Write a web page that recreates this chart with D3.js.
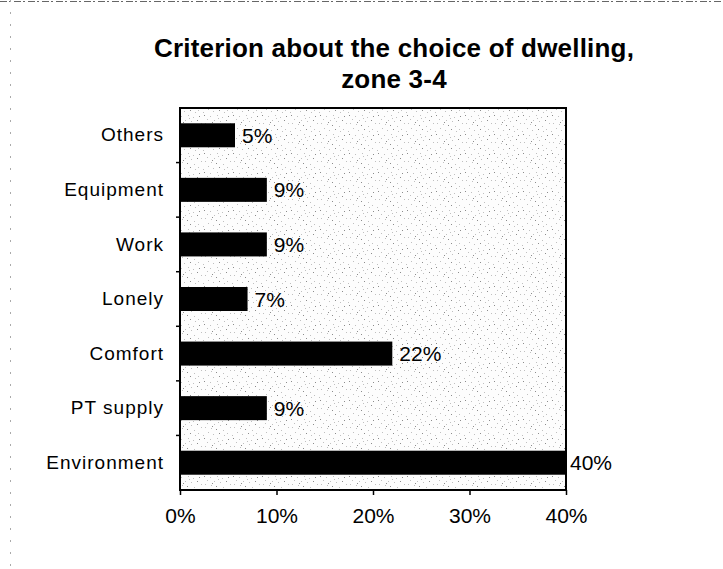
<!DOCTYPE html>
<html>
<head>
<meta charset="utf-8">
<script src="https://cdn.jsdelivr.net/npm/d3@7"></script>
<style>
  html, body { margin: 0; padding: 0; background: #fff; }
  svg { display: block; }
  text { font-family: "Liberation Sans", Arial, sans-serif; fill: #000; }
</style>
</head>
<body>
<script>
// ---- data ----
const categories = ["Others", "Equipment", "Work", "Lonely", "Comfort", "PT supply", "Environment"];
const values = [5.7, 9, 9, 7, 22, 9, 40];            // percent, bar lengths as read
const valueLabels = ["5%", "9%", "9%", "7%", "22%", "9%", "40%"];
const xTicks = [0, 10, 20, 30, 40];
const titleLines = ["Criterion about the choice of dwelling,", "zone 3-4"];

const W = 723, H = 569;
const plot = { left: 180, right: 566, top: 108, bottom: 490 };
const FONT = "'Liberation Sans', Arial, sans-serif";

const svg = d3.select("body").append("svg").attr("width", W).attr("height", H);

// stipple pattern for plot background (fixed dot layout)
const defs = svg.append("defs");
const pat = defs.append("pattern").attr("id", "stip").attr("patternUnits", "userSpaceOnUse")
  .attr("width", 29).attr("height", 19);
pat.append("rect").attr("width", 29).attr("height", 19).attr("fill", "#fdfdfd");
const dots = [[1,1],[7,2],[14,1],[19,3],[25,2],[4,5],[11,6],[17,7],[23,6],[27,9],
              [2,9],[8,10],[13,11],[20,12],[5,14],[10,16],[16,15],[24,15],[0,17],
              [15,4],[9,8],[21,17]];
dots.forEach((p, i) => {
  pat.append("rect").attr("x", p[0]).attr("y", p[1]).attr("width", 1).attr("height", 1)
    .attr("fill", i % 4 === 0 ? "#8c8c8c" : "#c0c0c0");
});

// outer frame (dashed, scan-like)
svg.append("line").attr("x1", 0).attr("x2", W).attr("y1", 1.5).attr("y2", 1.5)
  .attr("stroke", "#666").attr("stroke-width", 1).attr("stroke-dasharray", "7,2,2,3");
svg.append("line").attr("x1", 10.5).attr("x2", 10.5).attr("y1", 0).attr("y2", H)
  .attr("stroke", "#aaa").attr("stroke-width", 1).attr("stroke-dasharray", "2,10");

// title
const title = svg.append("text").attr("text-anchor", "middle")
  .style("font-weight", "bold").style("font-size", "26px").style("letter-spacing", "0.2px");
titleLines.forEach((t, i) => {
  title.append("tspan").attr("x", 394).attr("y", 57 + i * 31).text(t);
});

// scales
const x = d3.scaleLinear().domain([0, 40]).range([plot.left, plot.right]);
const y = d3.scaleBand().domain(categories).range([plot.top, plot.bottom])
  .paddingInner(0.56).paddingOuter(0.28);

// plot area
svg.append("rect").attr("x", plot.left).attr("y", plot.top)
  .attr("width", plot.right - plot.left).attr("height", plot.bottom - plot.top)
  .attr("fill", "url(#stip)").attr("stroke", "none");

// bars
svg.append("g").selectAll("rect").data(categories).join("rect")
  .attr("x", x(0))
  .attr("y", d => y(d))
  .attr("width", (d, i) => x(values[i]) - x(0))
  .attr("height", y.bandwidth())
  .attr("fill", "#000");

// border
svg.append("rect").attr("x", plot.left).attr("y", plot.top)
  .attr("width", plot.right - plot.left).attr("height", plot.bottom - plot.top)
  .attr("fill", "none").attr("stroke", "#000").attr("stroke-width", 2);

// x axis
const xAxis = svg.append("g").attr("transform", `translate(0,${plot.bottom})`)
  .call(d3.axisBottom(x).tickValues(xTicks).tickSize(5).tickPadding(13)
    .tickFormat(d => d + "%"));
xAxis.select(".domain").remove();
xAxis.selectAll(".tick line").attr("stroke", "#000").attr("stroke-width", 1.5);
xAxis.selectAll("text").style("font-size", "21px").attr("fill", "#000")
  .style("font-family", FONT);

// y axis labels
const yAxis = svg.append("g").attr("transform", `translate(${plot.left},0)`)
  .call(d3.axisLeft(y).tickSize(0).tickPadding(16));
yAxis.select(".domain").remove();
yAxis.selectAll("text").style("font-size", "19px").style("letter-spacing", "1px")
  .attr("fill", "#000").style("font-family", FONT);

// y tick marks at category boundaries
const bounds = categories.slice(1).map(c => y(c) - y.step() * y.paddingInner() / 2);
svg.append("g").selectAll("line").data(bounds).join("line")
  .attr("x1", plot.left - 4).attr("x2", plot.left)
  .attr("y1", d => d).attr("y2", d => d)
  .attr("stroke", "#000").attr("stroke-width", 1.5);

// value labels
svg.append("g").selectAll("text").data(categories).join("text")
  .attr("x", (d, i) => x(values[i]) + (values[i] >= 40 ? 4 : 7))
  .attr("y", d => y(d) + y.bandwidth() / 2)
  .attr("dy", "0.36em")
  .style("font-size", "21px")
  .text((d, i) => valueLabels[i]);
</script>
</body>
</html>
